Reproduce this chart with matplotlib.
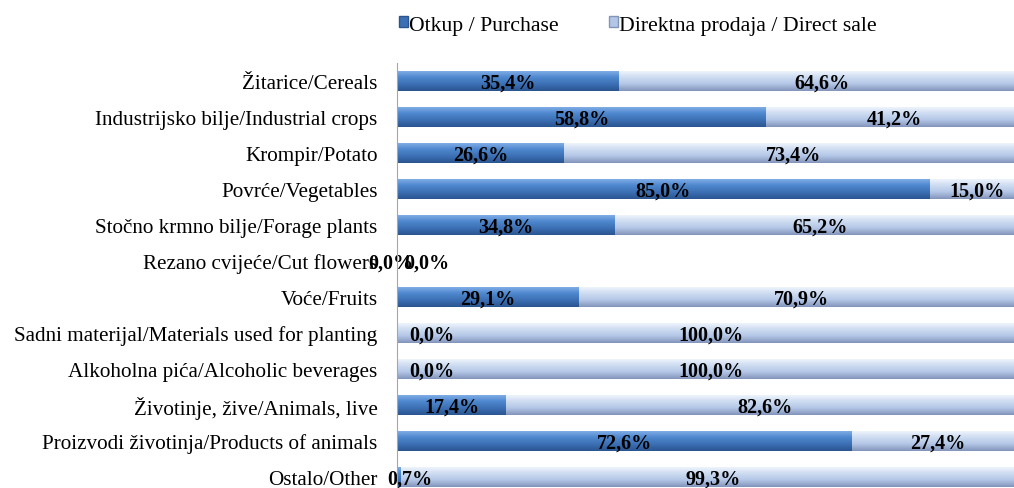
import numpy as np
import matplotlib.pyplot as plt
from matplotlib.colors import LinearSegmentedColormap

# data (percent shares)
categories = ["Žitarice/Cereals", "Industrijsko bilje/Industrial crops", "Krompir/Potato",
              "Povrće/Vegetables", "Stočno krmno bilje/Forage plants", "Rezano cvijeće/Cut flowers",
              "Voće/Fruits", "Sadni materijal/Materials used for planting",
              "Alkoholna pića/Alcoholic beverages", "Životinje, žive/Animals, live",
              "Proizvodi životinja/Products of animals", "Ostalo/Other"]
purchase = [35.4, 58.8, 26.6, 85.0, 34.8, 0.0, 29.1, 0.0, 0.0, 17.4, 72.6, 0.7]
direct = [64.6, 41.2, 73.4, 15.0, 65.2, 0.0, 70.9, 100.0, 100.0, 82.6, 27.4, 99.3]
series_names = ["Otkup / Purchase", "Direktna prodaja / Direct sale"]

plt.rcParams['font.family'] = ['Liberation Serif', 'DejaVu Serif']

dark_cmap = LinearSegmentedColormap.from_list("dk", ["#86B3EA", "#5089CF", "#3C70B4", "#2A5590"])
light_cmap = LinearSegmentedColormap.from_list("lt", ["#F2F7FD", "#CFDDF2", "#B3C6E6", "#8294BA"])

fig = plt.figure(figsize=(10.14, 4.89), dpi=100)
ax = fig.add_axes([397 / 1014, -7 / 489, 627 / 1014, 432 / 489])

y = np.arange(len(categories))
h = 0.56
b1 = ax.barh(y, purchase, height=h, color="#3C70B4", label=series_names[0], zorder=2)
b2 = ax.barh(y, direct, left=purchase, height=h, color="#B3C6E6", label=series_names[1], zorder=2)

# vertical shading to mimic the bevelled bars
grad = np.linspace(0, 1, 64).reshape(-1, 1)
for bars, cmap in ((b1, dark_cmap), (b2, light_cmap)):
    for p in bars:
        if p.get_width() <= 0:
            continue
        x0, y0 = p.get_x(), p.get_y()
        im = ax.imshow(grad, cmap=cmap, aspect='auto', origin='upper',
                       extent=(x0, x0 + p.get_width(), y0 + p.get_height(), y0), zorder=3)
        im.set_clip_path(p)


def fmt(v):
    return f"{v:.1f}%".replace(".", ",")


for i in range(len(categories)):
    p, d = purchase[i], direct[i]
    xp = p / 2 if p >= 5 else (2.1 if p > 0 else 5.5)
    xd = p + d / 2 if d >= 5 else p + 3.5
    if p == 0 and d == 0:
        xp, xd = -1.0, 4.8
    ax.text(xp, i + 0.05, fmt(p), ha='center', va='center', fontsize=14.5,
            fontweight='bold', zorder=5)
    ax.text(xd, i + 0.05, fmt(d), ha='center', va='center', fontsize=14.5,
            fontweight='bold', zorder=5)

ax.set_xlim(0, 100)
ax.set_ylim(len(categories) - 0.5, -0.5)
ax.set_yticks(y)
ax.set_yticklabels(categories, fontsize=15.2)
ax.tick_params(axis='y', length=0, pad=14)
ax.set_xticks([])
for s in ("top", "right", "bottom"):
    ax.spines[s].set_visible(False)
ax.spines["left"].set_color("#A6A6A6")
ax.spines["left"].set_zorder(6)

handles = [plt.Rectangle((0, 0), 1, 1, facecolor="#3C70B4", edgecolor="#2A5590"),
           plt.Rectangle((0, 0), 1, 1, facecolor="#B3C6E6", edgecolor="#8294BA")]
fig.legend(handles, series_names, loc='center', bbox_to_anchor=(638 / 1014, 1 - 26 / 489),
           ncol=2, frameon=False, fontsize=15.7, handlelength=0.4, handleheight=0.4,
           handletextpad=0.05, columnspacing=2.3)

fig.savefig("out.png", dpi=100)
